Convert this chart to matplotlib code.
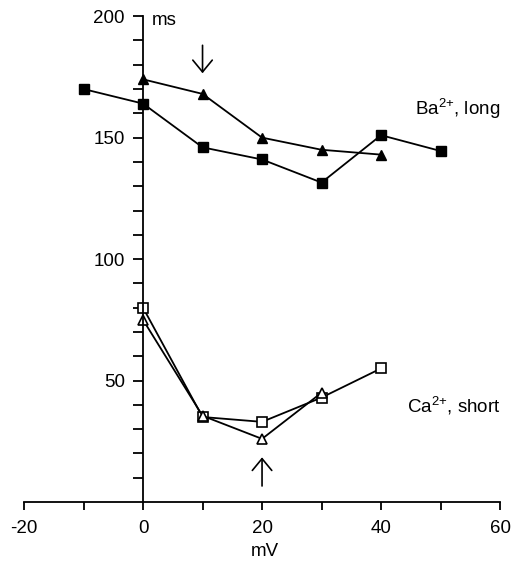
import matplotlib
matplotlib.use('Agg')
import matplotlib.pyplot as plt

plt.rcParams['font.family'] = ['Liberation Sans', 'DejaVu Sans']
plt.rcParams['mathtext.fontset'] = 'custom'
plt.rcParams['mathtext.rm'] = 'Liberation Sans'
plt.rcParams['mathtext.it'] = 'Liberation Sans'
plt.rcParams['mathtext.bf'] = 'Liberation Sans:bold'
plt.rcParams['axes.unicode_minus'] = False

# Ba2+, long
ba_x_tri = [0, 10, 20, 30, 40]
ba_y_tri = [174, 168, 150, 145, 143]
ba_x_sq = [-10, 0, 10, 20, 30, 40, 50]
ba_y_sq = [170, 164, 146, 141, 131.5, 151, 144.5]

# Ca2+, short
ca_x_sq = [0, 10, 20, 30, 40]
ca_y_sq = [80, 35, 33, 43, 55]
ca_x_tri = [0, 10, 20, 30]
ca_y_tri = [75, 35.5, 26, 45]

xticks = [-20, 0, 20, 40, 60]
yticks = [50, 100, 150, 200]

fs = 13.5

fig = plt.figure(figsize=(5.13, 5.63), dpi=100)
ax = fig.add_axes([0.0468, 0.1083, 0.928, 0.863])

kw = dict(color='black', lw=1.3)
ax.plot(ba_x_tri, ba_y_tri, marker='^', ms=7.5, mfc='black', **kw)
ax.plot(ba_x_sq, ba_y_sq, marker='s', ms=7, mfc='black', **kw)
ax.plot(ca_x_sq, ca_y_sq, marker='s', ms=6.5, mfc='white', mew=1.2, **kw)
ax.plot(ca_x_tri, ca_y_tri, marker='^', ms=7, mfc='white', mew=1.2, **kw)

ax.set_xlim(-20, 60)
ax.set_ylim(0, 200)
ax.spines['left'].set_position(('data', 0))
ax.spines['top'].set_visible(False)
ax.spines['right'].set_visible(False)
for s in ('left', 'bottom'):
    ax.spines[s].set_linewidth(1.3)

ax.set_xticks(xticks)
ax.set_xticks([-10, 10, 30, 50], minor=True)
ax.set_yticks(yticks)
ax.set_yticks([v for v in range(10, 200, 10) if v % 50], minor=True)
ax.tick_params(axis='y', which='both', direction='out', length=7, width=1.3,
               labelsize=fs, pad=6)
ax.tick_params(axis='x', which='both', direction='out', length=6, width=1.3,
               labelsize=fs, pad=7)

ax.text(1.5, 196.5, 'ms', fontsize=fs, va='baseline', ha='left')
ax.text(20.4, -20.5, 'mV', fontsize=fs, va='center', ha='center')

ax.text(60.0, 159.5, r'Ba$^{2{+}}$, long', fontsize=fs, ha='right', va='baseline')
ax.text(60.0, 37, r'Ca$^{2{+}}$, short', fontsize=fs, ha='right', va='baseline')

# arrows marking the peak voltages
arr = dict(arrowstyle='->,head_length=0.85,head_width=0.7', color='black', lw=1.2,
           shrinkA=0, shrinkB=0)
ax.annotate('', xy=(10, 176.5), xytext=(10, 188), arrowprops=arr)
ax.annotate('', xy=(20, 18.4), xytext=(20, 6.6), arrowprops=arr)

fig.savefig('out.png', dpi=100)
